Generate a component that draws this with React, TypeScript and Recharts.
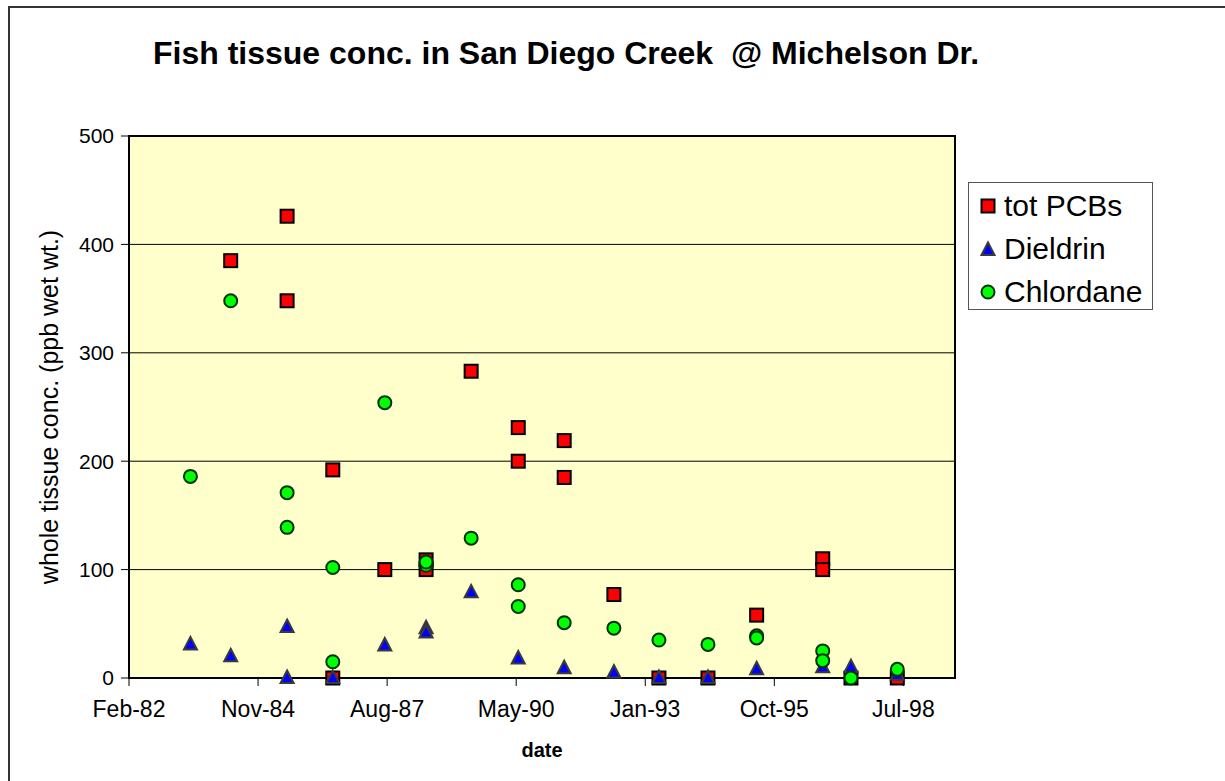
import React from 'react';
import { ScatterChart, Scatter, XAxis, YAxis, CartesianGrid, Legend, ReferenceArea } from 'recharts';

const FONT = '"Liberation Sans", Arial, Helvetica, sans-serif';

// x values are Excel date serials (days)
const xTickValues = [30000, 31000, 32000, 33000, 34000, 35000, 36000];
const xTickLabels = ['Feb-82', 'Nov-84', 'Aug-87', 'May-90', 'Jan-93', 'Oct-95', 'Jul-98'];
const yTicks = [0, 100, 200, 300, 400, 500];

const pcbDates = [30788, 31225, 31225, 31579, 31579, 31982, 32302, 32302, 32651, 33016, 33016, 33372, 33372, 33757, 34106, 34486, 34863, 35375, 35375, 35594, 35953];
const pcbValues = [385, 426, 348, 192, 0, 100, 109, 100, 283, 231, 200, 219, 185, 77, 0, 0, 58, 110, 100, 0, 0];

const dieldrinDates = [30476, 30788, 31225, 31225, 31579, 31982, 32302, 32302, 32651, 33016, 33372, 33757, 34106, 34486, 34863, 35375, 35594, 35953];
const dieldrinValues = [31, 20, 47, 0, 0, 30, 46, 42, 79, 18, 9, 5, 0, 0, 8, 10, 10, 3];

const chlordaneDates = [30476, 30788, 31225, 31225, 31579, 31579, 31982, 32302, 32302, 32651, 33016, 33016, 33372, 33757, 34106, 34486, 34863, 34863, 35375, 35375, 35594, 35953];
const chlordaneValues = [186, 348, 171, 139, 102, 15, 254, 104, 107, 129, 86, 66, 51, 46, 35, 31, 39, 37, 25, 16, 0, 8];

const toPoints = (dates: number[], values: number[]) => dates.map((d, i) => ({ date: d, value: values[i] }));

const pcbData = toPoints(pcbDates, pcbValues);
const dieldrinData = toPoints(dieldrinDates, dieldrinValues);
const chlordaneData = toPoints(chlordaneDates, chlordaneValues);

const SquareShape = (props: any) => {
  const { cx, cy } = props;
  return <rect x={cx - 6.5} y={cy - 6.5} width={13} height={13} fill="#FF0000" stroke="#000000" strokeWidth={2} />;
};

const TriangleShape = (props: any) => {
  const { cx, cy } = props;
  const pts = `${cx},${cy - 7.5} ${cx + 6.5},${cy + 5} ${cx - 6.5},${cy + 5}`;
  return <polygon points={pts} fill="#0000FF" stroke="#3a3a3a" strokeWidth={2} strokeLinejoin="miter" />;
};

const CircleShape = (props: any) => {
  const { cx, cy } = props;
  return <circle cx={cx} cy={cy} r={6.5} fill="#00FF00" stroke="#003300" strokeWidth={2} />;
};

const seriesDefs = [
  { name: 'tot PCBs', kind: 'square' },
  { name: 'Dieldrin', kind: 'triangle' },
  { name: 'Chlordane', kind: 'circle' },
];

const LegendMarker = ({ kind }: { kind: string }) => {
  const c = 11;
  return (
    <svg width={22} height={22} style={{ display: 'block' }}>
      {kind === 'square' && <SquareShape cx={c} cy={c} />}
      {kind === 'triangle' && <TriangleShape cx={c} cy={c + 1} />}
      {kind === 'circle' && <CircleShape cx={c} cy={c} />}
    </svg>
  );
};

const renderLegend = () => (
  <div
    style={{
      width: 185,
      height: 128,
      boxSizing: 'border-box',
      border: '1px solid #555',
      background: '#ffffff',
      fontFamily: FONT,
      fontSize: 30,
      color: '#000',
      paddingTop: 1,
    }}
  >
    {seriesDefs.map((s) => (
      <div key={s.name} style={{ display: 'flex', alignItems: 'center', height: 43 }}>
        <div style={{ width: 8 }} />
        <LegendMarker kind={s.kind} />
        <div style={{ width: 5 }} />
        <span style={{ lineHeight: '43px', whiteSpace: 'nowrap' }}>{s.name}</span>
      </div>
    ))}
  </div>
);

const YLabel = () => (
  <text
    x={58}
    y={407}
    transform="rotate(-90 58 407)"
    textAnchor="middle"
    fontFamily={FONT}
    fontSize={25}
    fill="#000"
  >
    whole tissue conc. (ppb wet wt.)
  </text>
);

export default function App() {
  return (
    <div style={{ position: 'absolute', left: 0, top: 0, width: 1225, height: 781, overflow: 'hidden', background: '#fff' }}>
      <div
        style={{
          position: 'absolute',
          left: 8,
          top: 6,
          width: 1300,
          height: 900,
          borderLeft: '2px solid #333',
          borderTop: '2px solid #333',
        }}
      />
      <div
        style={{
          position: 'absolute',
          left: 153,
          top: 37,
          fontFamily: FONT,
          fontWeight: 'bold',
          fontSize: 32,
          lineHeight: '32px',
          whiteSpace: 'pre',
          color: '#000',
        }}
      >
        {'Fish tissue conc. in San Diego Creek  @ Michelson Dr.'}
      </div>
      <div style={{ position: 'absolute', left: 0, top: 0 }}>
        <ScatterChart width={1225} height={781} margin={{ top: 136, right: 270, bottom: 23, left: 69 }}>
          <CartesianGrid vertical={false} horizontal fill="#FFFFCC" stroke="#000" strokeWidth={1} />
          <XAxis
            type="number"
            dataKey="date"
            domain={[30000, 36400]}
            ticks={xTickValues}
            tickFormatter={(v: number) => xTickLabels[xTickValues.indexOf(v)] ?? ''}
            height={80}
            tickSize={8}
            tickMargin={15}
            axisLine={{ stroke: '#000', strokeWidth: 2 }}
            tickLine={{ stroke: '#000', strokeWidth: 1 }}
            tick={{ fill: '#000', fontFamily: FONT, fontSize: 23 }}
            label={{ value: 'date', position: 'insideBottom', offset: 1, fill: '#000', fontFamily: FONT, fontSize: 20, fontWeight: 'bold' }}
          />
          <YAxis
            type="number"
            dataKey="value"
            domain={[0, 500]}
            ticks={yTicks}
            width={60}
            tickSize={8}
            tickMargin={7}
            axisLine={{ stroke: '#000', strokeWidth: 2 }}
            tickLine={{ stroke: '#000', strokeWidth: 1 }}
            tick={{ fill: '#000', fontFamily: FONT, fontSize: 21 }}
            label={<YLabel />}
          />
          <ReferenceArea x1={30000} x2={36400} y1={0} y2={500} fill="none" fillOpacity={0} stroke="#000" strokeWidth={2} ifOverflow="visible" />
          <Scatter name="tot PCBs" data={pcbData} shape={SquareShape} isAnimationActive={false} />
          <Scatter name="Dieldrin" data={dieldrinData} shape={TriangleShape} isAnimationActive={false} />
          <Scatter name="Chlordane" data={chlordaneData} shape={CircleShape} isAnimationActive={false} />
          <Legend
            layout="vertical"
            align="center"
            verticalAlign="middle"
            content={renderLegend}
            wrapperStyle={{ position: 'absolute', left: 968, top: 182, width: 185, height: 128 }}
          />
        </ScatterChart>
      </div>
    </div>
  );
}
